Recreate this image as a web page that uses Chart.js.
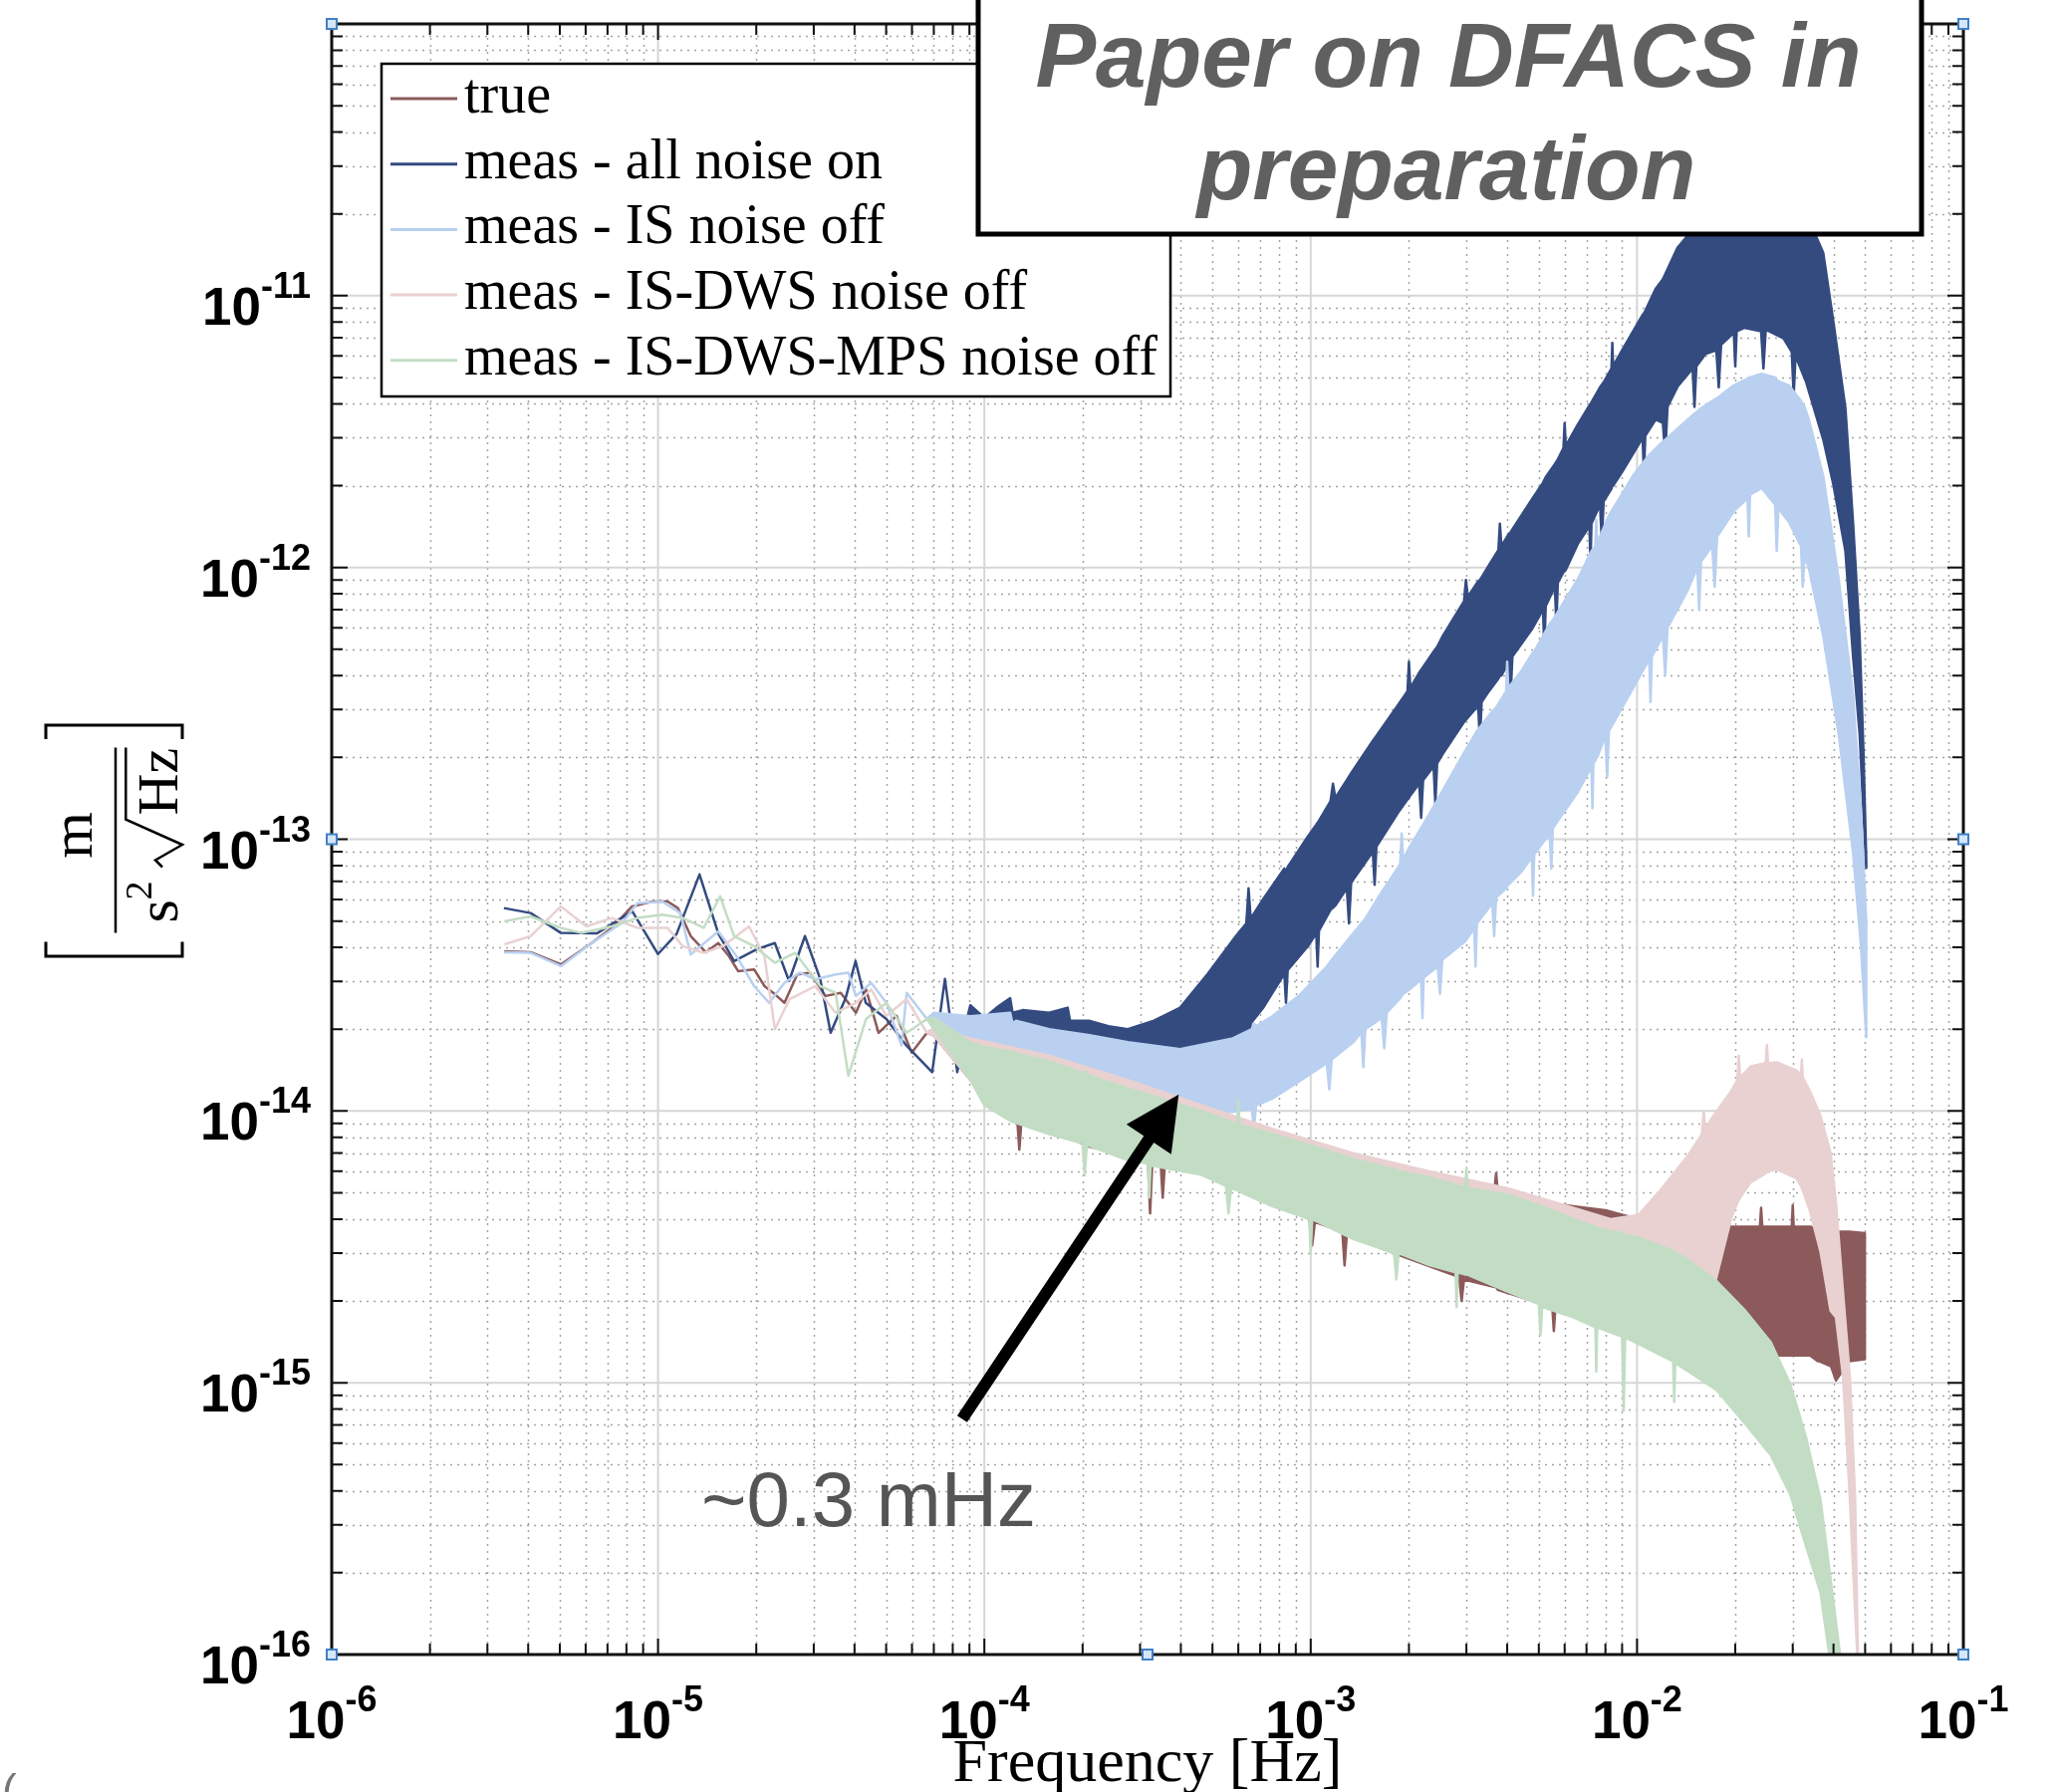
<!DOCTYPE html>
<html>
<head>
<meta charset="utf-8">
<script src="https://cdn.jsdelivr.net/npm/chart.js@4.4.1/dist/chart.umd.min.js"></script>
<style>
  html, body { margin: 0; padding: 0; background: #fff; }
  #wrap { width: 2064px; height: 1799px; }
</style>
</head>
<body>
<div id="wrap"><canvas id="plot" width="2064" height="1799"></canvas></div>
<script>
// Axis decades and tick labels
const xDecades = [-6, -5, -4, -3, -2, -1];
const yDecades = [-16, -15, -14, -13, -12, -11, -10];
const xTickExps = [-6, -5, -4, -3, -2, -1];
const yTickExps = [-16, -15, -14, -13, -12, -11];

const seriesNames = ['true', 'meas - all noise on', 'meas - IS noise off', 'meas - IS-DWS noise off', 'meas - IS-DWS-MPS noise off'];
const seriesColors = ['#8c5a5a', '#344b80', '#b9d0f0', '#e9d1d1', '#c3ddc5'];

// "true": low-frequency trace, then noise band (upper / lower envelope)
const trueLineF = [3.38e-6, 4.07e-6, 5.04e-6, 6.26e-6, 7.22e-6, 8.33e-6, 9.62e-6, 1.07e-5, 1.15e-5, 1.26e-5, 1.40e-5, 1.53e-5, 1.65e-5, 1.76e-5, 1.97e-5, 2.12e-5, 2.28e-5, 2.44e-5, 2.67e-5, 2.92e-5, 3.26e-5, 3.63e-5, 4.04e-5, 4.34e-5, 4.74e-5, 5.38e-5, 5.99e-5, 6.67e-5];
const trueLineV = [3.87e-14, 3.84e-14, 3.46e-14, 4.15e-14, 4.72e-14, 5.66e-14, 5.90e-14, 5.90e-14, 5.58e-14, 4.40e-14, 3.84e-14, 4.15e-14, 3.71e-14, 3.27e-14, 3.32e-14, 2.88e-14, 2.69e-14, 2.50e-14, 3.18e-14, 3.23e-14, 2.65e-14, 2.72e-14, 2.30e-14, 2.80e-14, 1.94e-14, 2.24e-14, 1.64e-14, 1.94e-14];
const trueBandF = [7.0e-5, 9.06e-5, 1.26e-4, 1.28e-4, 1.30e-4, 1.58e-4, 2.09e-4, 2.75e-4, 3.17e-4, 3.22e-4, 3.27e-4, 3.47e-4, 3.52e-4, 3.57e-4, 4.62e-4, 7.62e-4, 9.9e-4, 1.01e-3, 1.03e-3, 1.25e-3, 1.27e-3, 1.29e-3, 1.94e-3, 2.85e-3, 2.9e-3, 2.95e-3, 3.66e-3, 3.7e-3, 3.74e-3, 5.5e-3, 5.56e-3, 5.62e-3, 8.1e-3, 1.01e-2, 1.22e-2, 1.46e-2, 1.49e-2, 1.51e-2, 1.53e-2, 1.6e-2, 1.75e-2, 1.88e-2, 1.9e-2, 1.92e-2, 2.13e-2, 2.38e-2, 2.4e-2, 2.42e-2, 2.69e-2, 2.98e-2, 3.0e-2, 3.02e-2, 3.39e-2, 3.58e-2, 3.6e-2, 3.62e-2, 3.93e-2, 4.07e-2, 4.47e-2, 4.99e-2];
const trueBandHi = [2.0e-14, 1.9e-14, 1.7e-14, 1.7e-14, 1.68e-14, 1.55e-14, 1.35e-14, 1.22e-14, 1.15e-14, 1.15e-14, 1.14e-14, 1.1e-14, 1.1e-14, 1.09e-14, 1.0e-14, 8.4e-15, 7.6e-15, 7.5e-15, 7.4e-15, 7.0e-15, 6.9e-15, 6.9e-15, 6.0e-15, 5.4e-15, 5.4e-15, 5.35e-15, 5.2e-15, 5.9e-15, 5.1e-15, 4.6e-15, 4.6e-15, 4.55e-15, 4.3e-15, 4.0e-15, 3.9e-15, 3.3e-15, 3.4e-15, 4.3e-15, 3.5e-15, 3.6e-15, 3.75e-15, 3.75e-15, 4.6e-15, 3.75e-15, 3.75e-15, 3.75e-15, 4.4e-15, 3.75e-15, 3.75e-15, 3.75e-15, 4.5e-15, 3.75e-15, 3.75e-15, 3.7e-15, 4.2e-15, 3.7e-15, 3.65e-15, 3.6e-15, 3.6e-15, 3.55e-15];
const trueBandLo = [1.9e-14, 1.3e-14, 9.4e-15, 7.2e-15, 9.3e-15, 8.6e-15, 7.4e-15, 6.9e-15, 6.6e-15, 4.2e-15, 6.5e-15, 6.4e-15, 4.8e-15, 6.3e-15, 6.0e-15, 4.7e-15, 4.0e-15, 3.2e-15, 3.9e-15, 3.6e-15, 2.7e-15, 3.5e-15, 2.9e-15, 2.45e-15, 2.0e-15, 2.4e-15, 2.25e-15, 2.25e-15, 2.2e-15, 1.9e-15, 1.55e-15, 1.88e-15, 1.6e-15, 1.45e-15, 1.35e-15, 1.3e-15, 1.3e-15, 1.3e-15, 1.3e-15, 1.3e-15, 1.3e-15, 1.29e-15, 1.29e-15, 1.29e-15, 1.28e-15, 1.27e-15, 1.27e-15, 1.27e-15, 1.26e-15, 1.26e-15, 1.26e-15, 1.26e-15, 1.26e-15, 1.2e-15, 1.2e-15, 1.2e-15, 1.15e-15, 1.02e-15, 1.2e-15, 1.22e-15];

// "meas - all noise on"
const allLineF = [3.37e-6, 4.07e-6, 5.04e-6, 6.49e-6, 8.34e-6, 1.0e-5, 1.14e-5, 1.34e-5, 1.53e-5, 1.71e-5, 2.01e-5, 2.28e-5, 2.52e-5, 2.82e-5, 3.14e-5, 3.38e-5, 3.76e-5, 4.03e-5, 4.33e-5, 5.01e-5, 5.77e-5, 6.92e-5, 7.57e-5, 8.26e-5];
const allLineV = [5.58e-14, 5.35e-14, 4.52e-14, 4.50e-14, 5.43e-14, 3.78e-14, 4.48e-14, 7.42e-14, 4.50e-14, 3.56e-14, 3.94e-14, 4.15e-14, 3.01e-14, 4.40e-14, 3.06e-14, 1.94e-14, 2.61e-14, 3.56e-14, 2.50e-14, 2.18e-14, 1.74e-14, 1.39e-14, 3.06e-14, 1.39e-14];
const allBandF = [8.6e-5, 9.06e-5, 1.0e-4, 1.09e-4, 1.2e-4, 1.22e-4, 1.31e-4, 1.58e-4, 1.8e-4, 1.83e-4, 2.09e-4, 2.4e-4, 2.75e-4, 3.31e-4, 3.98e-4, 4.84e-4, 5.9e-4, 6.35e-4, 6.45e-4, 6.55e-4, 7.14e-4, 8.3e-4, 8.4e-4, 8.5e-4, 9.78e-4, 1.04e-3, 1.05e-3, 1.06e-3, 1.15e-3, 1.17e-3, 1.19e-3, 1.29e-3, 1.31e-3, 1.33e-3, 1.36e-3, 1.55e-3, 1.57e-3, 1.59e-3, 1.85e-3, 1.98e-3, 2.0e-3, 2.02e-3, 2.15e-3, 2.18e-3, 2.21e-3, 2.38e-3, 2.41e-3, 2.44e-3, 2.54e-3, 2.95e-3, 2.99e-3, 3.03e-3, 3.26e-3, 3.3e-3, 3.34e-3, 3.48e-3, 3.76e-3, 3.8e-3, 3.84e-3, 4.05e-3, 4.1e-3, 4.15e-3, 4.76e-3, 5.15e-3, 5.2e-3, 5.25e-3, 5.6e-3, 5.66e-3, 5.72e-3, 5.95e-3, 6.0e-3, 6.05e-3, 6.58e-3, 7.15e-3, 7.2e-3, 7.25e-3, 7.7e-3, 7.8e-3, 7.9e-3, 8.35e-3, 8.4e-3, 8.45e-3, 9.01e-3, 1.04e-2, 1.05e-2, 1.06e-2, 1.14e-2, 1.2e-2, 1.22e-2, 1.24e-2, 1.33e-2, 1.48e-2, 1.5e-2, 1.52e-2, 1.62e-2, 1.75e-2, 1.78e-2, 1.81e-2, 1.98e-2, 2.0e-2, 2.02e-2, 2.13e-2, 2.4e-2, 2.44e-2, 2.48e-2, 2.81e-2, 2.98e-2, 3.02e-2, 3.06e-2, 3.3e-2, 3.72e-2, 4.0e-2, 4.35e-2, 4.59e-2, 4.81e-2, 4.94e-2, 5.04e-2];
const allBandHi = [1.9e-14, 2.45e-14, 2.2e-14, 2.4e-14, 2.6e-14, 2.3e-14, 2.35e-14, 2.3e-14, 2.4e-14, 2.15e-14, 2.15e-14, 2.05e-14, 2.0e-14, 2.15e-14, 2.4e-14, 3.2e-14, 4.4e-14, 4.9e-14, 6.6e-14, 5.1e-14, 6.0e-14, 7.8e-14, 7.6e-14, 7.9e-14, 1.02e-13, 1.13e-13, 1.15e-13, 1.17e-13, 1.38e-13, 1.6e-13, 1.42e-13, 1.65e-13, 1.7e-13, 1.75e-13, 1.82e-13, 2.3e-13, 2.35e-13, 2.4e-13, 3.11e-13, 3.5e-13, 4.5e-13, 3.6e-13, 4.1e-13, 4.2e-13, 4.3e-13, 4.9e-13, 5.0e-13, 5.1e-13, 5.6e-13, 7.5e-13, 9.0e-13, 7.8e-13, 8.9e-13, 9.0e-13, 9.2e-13, 9.98e-13, 1.16e-12, 1.45e-12, 1.2e-12, 1.33e-12, 1.35e-12, 1.38e-12, 1.78e-12, 2.05e-12, 2.1e-12, 2.15e-12, 2.4e-12, 2.45e-12, 2.5e-12, 2.75e-12, 3.4e-12, 2.8e-12, 3.35e-12, 3.95e-12, 4.0e-12, 4.05e-12, 4.6e-12, 4.7e-12, 4.8e-12, 5.4e-12, 6.7e-12, 5.5e-12, 6.31e-12, 8.5e-12, 8.6e-12, 8.8e-12, 1.06e-11, 1.15e-11, 1.2e-11, 1.25e-11, 1.5e-11, 1.75e-11, 1.8e-11, 1.82e-11, 1.96e-11, 2.2e-11, 2.25e-11, 2.3e-11, 2.45e-11, 2.5e-11, 2.5e-11, 2.58e-11, 2.6e-11, 2.6e-11, 2.6e-11, 2.44e-11, 2.3e-11, 2.25e-11, 2.2e-11, 2.0e-11, 1.44e-11, 7.96e-12, 3.87e-12, 1.47e-12, 5.6e-13, 2.11e-13, 8.38e-14];
const allBandLo = [1.8e-14, 1.48e-14, 1.5e-14, 1.43e-14, 1.45e-14, 1.4e-14, 1.39e-14, 1.28e-14, 1.25e-14, 1.24e-14, 1.21e-14, 1.18e-14, 1.15e-14, 1.11e-14, 1.11e-14, 1.33e-14, 1.8e-14, 2.0e-14, 1.5e-14, 2.1e-14, 2.39e-14, 3.2e-14, 2.5e-14, 3.3e-14, 4.03e-14, 4.5e-14, 3.4e-14, 4.6e-14, 5.5e-14, 5.6e-14, 5.7e-14, 6.6e-14, 4.9e-14, 6.9e-14, 7.2e-14, 9.0e-14, 6.8e-14, 9.4e-14, 1.25e-13, 1.4e-13, 1.42e-13, 1.45e-13, 1.6e-13, 1.2e-13, 1.65e-13, 1.85e-13, 1.35e-13, 1.9e-13, 2.06e-13, 2.7e-13, 2.75e-13, 2.8e-13, 3.1e-13, 2.3e-13, 3.2e-13, 3.44e-13, 3.9e-13, 4.0e-13, 4.0e-13, 4.5e-13, 3.4e-13, 4.7e-13, 5.92e-13, 7.0e-13, 5.0e-13, 7.2e-13, 8.5e-13, 6.2e-13, 8.8e-13, 9.6e-13, 9.7e-13, 9.8e-13, 1.22e-12, 1.42e-12, 1.02e-12, 1.45e-12, 1.7e-12, 1.25e-12, 1.75e-12, 1.95e-12, 2.0e-12, 2.0e-12, 2.25e-12, 3.0e-12, 2.2e-12, 3.05e-12, 3.5e-12, 3.4e-12, 2.6e-12, 3.9e-12, 4.62e-12, 5.4e-12, 3.9e-12, 5.5e-12, 6.1e-12, 6.3e-12, 4.6e-12, 6.6e-12, 7.3e-12, 5.5e-12, 7.4e-12, 7.62e-12, 7.4e-12, 5.4e-12, 7.5e-12, 6.97e-12, 6.2e-12, 4.3e-12, 6.0e-12, 4.8e-12, 2.96e-12, 2.01e-12, 1.15e-12, 4.74e-13, 2.43e-13, 1.25e-13, 7.84e-14];

// "meas - IS noise off"
const isLineF = [3.38e-6, 4.07e-6, 5.04e-6, 6.26e-6, 7.76e-6, 8.64e-6, 1.03e-5, 1.17e-5, 1.26e-5, 1.53e-5, 1.74e-5, 1.97e-5, 2.19e-5, 2.44e-5, 2.72e-5, 3.03e-5, 3.50e-5, 3.83e-5, 4.04e-5, 4.50e-5, 5.01e-5, 5.57e-5, 5.78e-5, 6.67e-5];
const isLineV = [3.84e-14, 3.82e-14, 3.41e-14, 4.15e-14, 4.92e-14, 5.82e-14, 5.90e-14, 5.35e-14, 3.77e-14, 4.58e-14, 3.71e-14, 2.88e-14, 2.50e-14, 2.96e-14, 3.23e-14, 3.05e-14, 3.18e-14, 3.23e-14, 2.65e-14, 2.96e-14, 2.50e-14, 1.74e-14, 2.72e-14, 2.18e-14];
const isBandF = [7.0e-5, 9.06e-5, 1.2e-4, 1.22e-4, 1.25e-4, 1.58e-4, 2.1e-4, 2.75e-4, 3.98e-4, 5.77e-4, 6.6e-4, 6.7e-4, 6.8e-4, 7.62e-4, 9.16e-4, 1.12e-3, 1.14e-3, 1.16e-3, 1.35e-3, 1.43e-3, 1.45e-3, 1.47e-3, 1.65e-3, 1.68e-3, 1.71e-3, 1.88e-3, 1.9e-3, 1.92e-3, 2.0e-3, 2.18e-3, 2.2e-3, 2.22e-3, 2.45e-3, 2.49e-3, 2.53e-3, 2.97e-3, 3.17e-3, 3.2e-3, 3.23e-3, 3.6e-3, 3.65e-3, 3.7e-3, 3.97e-3, 4.0e-3, 4.03e-3, 4.42e-3, 4.76e-3, 4.8e-3, 4.84e-3, 5.4e-3, 5.46e-3, 5.52e-3, 6.58e-3, 7.25e-3, 7.3e-3, 7.35e-3, 7.45e-3, 7.5e-3, 7.55e-3, 8.0e-3, 8.1e-3, 8.2e-3, 9.71e-3, 1.09e-2, 1.1e-2, 1.11e-2, 1.2e-2, 1.22e-2, 1.24e-2, 1.43e-2, 1.53e-2, 1.55e-2, 1.57e-2, 1.7e-2, 1.73e-2, 1.76e-2, 1.98e-2, 2.18e-2, 2.2e-2, 2.22e-2, 2.41e-2, 2.65e-2, 2.68e-2, 2.71e-2, 2.92e-2, 3.18e-2, 3.22e-2, 3.26e-2, 3.36e-2, 3.72e-2, 4.15e-2, 4.59e-2, 4.85e-2, 5.04e-2];
const isBandHi = [2.3e-14, 2.23e-14, 2.3e-14, 2.1e-14, 2.15e-14, 2.0e-14, 1.9e-14, 1.79e-14, 1.69e-14, 1.85e-14, 2.0e-14, 2.1e-14, 2.05e-14, 2.23e-14, 2.64e-14, 3.4e-14, 3.5e-14, 3.6e-14, 4.5e-14, 4.9e-14, 5.0e-14, 5.1e-14, 6.4e-14, 6.6e-14, 6.8e-14, 8.1e-14, 1.05e-13, 8.4e-14, 9.26e-14, 1.1e-13, 1.12e-13, 1.14e-13, 1.4e-13, 1.45e-13, 1.5e-13, 2.11e-13, 2.4e-13, 2.45e-13, 2.5e-13, 2.95e-13, 3.0e-13, 3.05e-13, 3.5e-13, 4.5e-13, 3.6e-13, 4.15e-13, 4.8e-13, 4.85e-13, 4.9e-13, 6.2e-13, 6.3e-13, 6.4e-13, 9.03e-13, 1.15e-12, 1.16e-12, 1.17e-12, 1.2e-12, 1.5e-12, 1.23e-12, 1.45e-12, 1.5e-12, 1.55e-12, 2.17e-12, 2.6e-12, 2.62e-12, 2.65e-12, 2.9e-12, 2.95e-12, 3.0e-12, 3.5e-12, 3.75e-12, 3.8e-12, 3.85e-12, 4.1e-12, 4.15e-12, 4.2e-12, 4.68e-12, 4.95e-12, 5.0e-12, 5.0e-12, 5.16e-12, 5.0e-12, 4.9e-12, 4.85e-12, 4.68e-12, 4.1e-12, 4.0e-12, 3.9e-12, 3.5e-12, 2.17e-12, 9.03e-13, 3.4e-13, 1.31e-13, 4.97e-14];
const isBandLo = [2.1e-14, 1.6e-14, 1.35e-14, 1.15e-14, 1.35e-14, 1.24e-14, 1.15e-14, 1.06e-14, 9.71e-15, 9.93e-15, 1.02e-14, 8.6e-15, 1.05e-14, 1.11e-14, 1.28e-14, 1.5e-14, 1.2e-14, 1.55e-14, 1.79e-14, 1.95e-14, 1.45e-14, 2.0e-14, 2.2e-14, 1.7e-14, 2.3e-14, 2.6e-14, 2.65e-14, 2.7e-14, 2.79e-14, 3.05e-14, 2.2e-14, 3.1e-14, 3.4e-14, 2.7e-14, 3.6e-14, 4.2e-14, 4.7e-14, 3.4e-14, 4.9e-14, 5.8e-14, 4.4e-14, 6.1e-14, 6.6e-14, 6.7e-14, 6.8e-14, 7.58e-14, 8.6e-14, 6.2e-14, 8.8e-14, 1.05e-13, 7.8e-14, 1.1e-13, 1.49e-13, 1.85e-13, 1.3e-13, 1.9e-13, 1.95e-13, 2.0e-13, 2.0e-13, 2.4e-13, 1.7e-13, 2.5e-13, 3.59e-13, 4.6e-13, 3.2e-13, 4.7e-13, 5.6e-13, 4.0e-13, 6.0e-13, 8.26e-13, 1.0e-12, 7.0e-13, 1.05e-12, 1.2e-12, 8.5e-13, 1.3e-12, 1.61e-12, 1.8e-12, 1.3e-12, 1.85e-12, 1.96e-12, 1.7e-12, 1.15e-12, 1.65e-12, 1.47e-12, 1.2e-12, 8.5e-13, 1.1e-12, 9.98e-13, 5.6e-13, 2.43e-13, 8.96e-14, 4.12e-14, 1.87e-14];

// "meas - IS-DWS noise off"
const dwsLineF = [3.38e-6, 4.07e-6, 5.04e-6, 6.03e-6, 7.22e-6, 8.64e-6, 1.07e-5, 1.19e-5, 1.38e-5, 1.58e-5, 1.90e-5, 2.12e-5, 2.28e-5, 2.53e-5, 3.03e-5, 3.50e-5, 4.04e-5, 4.50e-5, 5.01e-5, 5.78e-5, 6.67e-5];
const dwsLineV = [4.10e-14, 4.40e-14, 5.66e-14, 4.78e-14, 5.13e-14, 4.72e-14, 4.72e-14, 4.04e-14, 3.82e-14, 4.04e-14, 4.78e-14, 3.71e-14, 2.00e-14, 2.58e-14, 2.88e-14, 2.30e-14, 2.50e-14, 2.80e-14, 2.24e-14, 2.58e-14, 1.94e-14];
const dwsBandF = [7.0e-5, 9.06e-5, 1.58e-4, 2.75e-4, 4.62e-4, 7.62e-4, 1.35e-3, 2.31e-3, 3.99e-3, 6.4e-3, 8.3e-3, 1.01e-2, 1.18e-2, 1.42e-2, 1.58e-2, 1.6e-2, 1.62e-2, 1.68e-2, 1.94e-2, 2.03e-2, 2.05e-2, 2.07e-2, 2.23e-2, 2.48e-2, 2.5e-2, 2.52e-2, 2.68e-2, 3.08e-2, 3.18e-2, 3.2e-2, 3.22e-2, 3.39e-2, 3.65e-2, 3.92e-2, 4.07e-2, 4.28e-2, 4.49e-2, 4.66e-2, 4.75e-2, 4.81e-2];
const dwsBandHi = [2.0e-14, 1.85e-14, 1.6e-14, 1.3e-14, 1.05e-14, 8.6e-15, 7.0e-15, 6.0e-15, 5.2e-15, 4.4e-15, 4.0e-15, 4.14e-15, 5.11e-15, 6.75e-15, 8.2e-15, 1.0e-14, 8.5e-15, 9.25e-15, 1.18e-14, 1.3e-14, 1.6e-14, 1.33e-14, 1.46e-14, 1.5e-14, 1.75e-14, 1.5e-14, 1.51e-14, 1.41e-14, 1.36e-14, 1.55e-14, 1.33e-14, 1.18e-14, 9.59e-15, 6.98e-15, 4.6e-15, 2.13e-15, 1.05e-15, 3.71e-16, 1.02e-16, 8e-17];
const dwsBandLo = [1.9e-14, 1.3e-14, 8.8e-15, 7.2e-15, 6.3e-15, 4.9e-15, 3.7e-15, 3.0e-15, 2.4e-15, 1.9e-15, 1.7e-15, 1.5e-15, 1.45e-15, 1.5e-15, 1.8e-15, 1.85e-15, 1.9e-15, 2.0e-15, 4.0e-15, 4.6e-15, 4.7e-15, 4.8e-15, 5.47e-15, 5.9e-15, 5.95e-15, 6.0e-15, 6.1e-15, 5.66e-15, 5.3e-15, 5.2e-15, 5.1e-15, 4.28e-15, 3.03e-15, 1.84e-15, 1.74e-15, 1.05e-15, 3.71e-16, 1.43e-16, 9e-17, 8e-17];

// "meas - IS-DWS-MPS noise off"
const mpsLineF = [3.38e-6, 4.07e-6, 5.04e-6, 5.82e-6, 7.22e-6, 8.64e-6, 1.03e-5, 1.19e-5, 1.38e-5, 1.55e-5, 1.71e-5, 1.97e-5, 2.28e-5, 2.63e-5, 3.14e-5, 3.50e-5, 3.83e-5, 4.34e-5, 5.01e-5, 5.78e-5, 6.67e-5];
const mpsLineV = [4.99e-14, 5.20e-14, 4.72e-14, 4.52e-14, 4.78e-14, 5.13e-14, 5.28e-14, 5.13e-14, 4.72e-14, 6.16e-14, 4.40e-14, 4.04e-14, 3.51e-14, 3.82e-14, 2.88e-14, 2.72e-14, 1.35e-14, 2.18e-14, 2.50e-14, 1.94e-14, 2.18e-14];
const mpsBandF = [7.0e-5, 9.06e-5, 1.0e-4, 1.2e-4, 1.58e-4, 2.0e-4, 2.03e-4, 2.06e-4, 2.75e-4, 3.17e-4, 3.2e-4, 3.23e-4, 4.62e-4, 5.5e-4, 5.6e-4, 5.7e-4, 5.95e-4, 6.0e-4, 6.05e-4, 7.62e-4, 9.9e-4, 1.0e-3, 1.01e-3, 1.35e-3, 1.8e-3, 1.83e-3, 1.86e-3, 2.31e-3, 2.78e-3, 2.8e-3, 2.82e-3, 2.98e-3, 3.0e-3, 3.02e-3, 3.99e-3, 5.0e-3, 5.06e-3, 5.12e-3, 6.4e-3, 7.45e-3, 7.5e-3, 7.55e-3, 9.0e-3, 9.1e-3, 9.2e-3, 1.01e-2, 1.29e-2, 1.3e-2, 1.31e-2, 1.42e-2, 1.75e-2, 2.13e-2, 2.57e-2, 2.95e-2, 3.3e-2, 3.65e-2, 3.93e-2, 4.19e-2, 4.27e-2];
const mpsBandHi = [2.2e-14, 1.79e-14, 1.72e-14, 1.65e-14, 1.52e-14, 1.38e-14, 1.4e-14, 1.36e-14, 1.21e-14, 1.15e-14, 1.15e-14, 1.14e-14, 1.0e-14, 9.3e-15, 9.2e-15, 9.1e-15, 8.9e-15, 1.1e-14, 8.9e-15, 8.22e-15, 7.5e-15, 7.5e-15, 7.45e-15, 6.66e-15, 6.1e-15, 6.1e-15, 6.0e-15, 5.7e-15, 5.35e-15, 5.35e-15, 5.3e-15, 5.25e-15, 6.2e-15, 5.2e-15, 4.93e-15, 4.5e-15, 4.5e-15, 4.45e-15, 4.0e-15, 3.75e-15, 3.75e-15, 3.7e-15, 3.55e-15, 3.55e-15, 3.5e-15, 3.42e-15, 3.05e-15, 3.05e-15, 3.0e-15, 2.86e-15, 2.37e-15, 1.86e-15, 1.41e-15, 9.86e-16, 6.25e-16, 3.71e-16, 1.84e-16, 1.0e-16, 8e-17];
const mpsBandLo = [2.0e-14, 1.3e-14, 1.05e-14, 9.2e-15, 8.22e-15, 7.6e-15, 5.8e-15, 7.5e-15, 6.59e-15, 6.4e-15, 4.8e-15, 6.3e-15, 5.83e-15, 5.3e-15, 4.2e-15, 5.2e-15, 5.1e-15, 5.1e-15, 5.05e-15, 4.47e-15, 4.0e-15, 3.0e-15, 4.0e-15, 3.38e-15, 3.0e-15, 2.4e-15, 3.0e-15, 2.71e-15, 2.55e-15, 1.9e-15, 2.55e-15, 2.5e-15, 2.5e-15, 2.5e-15, 2.17e-15, 1.95e-15, 1.5e-15, 1.9e-15, 1.74e-15, 1.6e-15, 1.1e-15, 1.6e-15, 1.48e-15, 7.9e-16, 1.47e-15, 1.39e-15, 1.2e-15, 8.5e-16, 1.18e-15, 1.11e-15, 9.42e-16, 7.14e-16, 5.41e-16, 3.88e-16, 2.49e-16, 1.69e-16, 9e-17, 8e-17, 8e-17];

// annotation anchors (data coordinates)
const arrowTail = {x: 8.55e-5, y: 7.36e-16};
const arrowTip = {x: 3.94e-4, y: 1.15e-14};
const noteText = '~0.3 mHz';
const notePos = {x: 1.357e-5, y: 2.98e-16};

// outline of a trace: line part, upper envelope, lower envelope back
function outline(lineF, lineV, bandF, bandHi, bandLo) {
    const pts = [];
    lineF.forEach((f, i) => pts.push({x: f, y: lineV[i]}));
    bandF.forEach((f, i) => pts.push({x: f, y: bandHi[i]}));
    for (let i = bandF.length - 1; i >= 0; i--) pts.push({x: bandF[i], y: bandLo[i]});
    for (let i = lineF.length - 1; i >= 0; i--) pts.push({x: lineF[i], y: lineV[i]});
    return pts;
}

function trace(idx, pts) {
    return {
        label: seriesNames[idx],
        data: pts,
        borderColor: seriesColors[idx],
        backgroundColor: seriesColors[idx],
        borderWidth: 2.5,
        borderJoinStyle: 'round',
        fill: 'shape',
        pointRadius: 0,
        tension: 0,
        clip: 0
    };
}

// first dataset is drawn on top
const datasets = [
    trace(4, outline(mpsLineF, mpsLineV, mpsBandF, mpsBandHi, mpsBandLo)),
    trace(3, outline(dwsLineF, dwsLineV, dwsBandF, dwsBandHi, dwsBandLo)),
    trace(2, outline(isLineF, isLineV, isBandF, isBandHi, isBandLo)),
    trace(1, outline(allLineF, allLineV, allBandF, allBandHi, allBandLo)),
    trace(0, outline(trueLineF, trueLineV, trueBandF, trueBandHi, trueBandLo))
];

function logTicks(decades) {
    const out = [];
    for (let i = 0; i < decades.length - 1; i++) {
        for (let m = 1; m <= 9; m++) out.push({v: m * Math.pow(10, decades[i]), major: m === 1});
    }
    out.push({v: Math.pow(10, decades[decades.length - 1]), major: true});
    return out;
}

const SANS = '"Liberation Sans", Arial, Helvetica, sans-serif';
const SERIF = '"Liberation Serif", "Times New Roman", serif';

const gridPlugin = {
    id: 'matlabGrid',
    beforeDatasetsDraw(chart) {
        const {ctx, chartArea: a, scales: {x, y}} = chart;
        ctx.save();
        ctx.beginPath();
        ctx.rect(a.left, a.top, a.right - a.left, a.bottom - a.top);
        ctx.clip();
        const xt = logTicks(xDecades), yt = logTicks(yDecades);
        // minor dotted grid
        ctx.strokeStyle = '#a4a4a4';
        ctx.lineWidth = 1.5;
        ctx.setLineDash([2, 5]);
        xt.filter(t => !t.major).forEach(t => {
            const px = Math.round(x.getPixelForValue(t.v)) + 0.5;
            ctx.beginPath(); ctx.moveTo(px, a.top); ctx.lineTo(px, a.bottom); ctx.stroke();
        });
        yt.filter(t => !t.major).forEach(t => {
            const py = Math.round(y.getPixelForValue(t.v)) + 0.5;
            ctx.beginPath(); ctx.moveTo(a.left, py); ctx.lineTo(a.right, py); ctx.stroke();
        });
        // major solid grid
        ctx.setLineDash([]);
        ctx.strokeStyle = '#d6d6d6';
        ctx.lineWidth = 2;
        xt.filter(t => t.major).forEach(t => {
            const px = x.getPixelForValue(t.v);
            ctx.beginPath(); ctx.moveTo(px, a.top); ctx.lineTo(px, a.bottom); ctx.stroke();
        });
        yt.filter(t => t.major).forEach(t => {
            const py = y.getPixelForValue(t.v);
            ctx.beginPath(); ctx.moveTo(a.left, py); ctx.lineTo(a.right, py); ctx.stroke();
        });
        ctx.restore();
    }
};

function drawPow(ctx, exp, px, baseline, align) {
    ctx.font = 'bold 53px ' + SANS;
    const wb = ctx.measureText('10').width;
    ctx.font = 'bold 36px ' + SANS;
    const sup = String(exp);
    const ws = ctx.measureText(sup).width;
    const left = align === 'right' ? px - wb - ws : px - (wb + ws) / 2;
    ctx.textAlign = 'left';
    ctx.textBaseline = 'alphabetic';
    ctx.fillStyle = '#000';
    ctx.font = 'bold 53px ' + SANS;
    ctx.fillText('10', left, baseline);
    ctx.font = 'bold 36px ' + SANS;
    ctx.fillText(sup, left + wb, baseline - 27);
}

const framePlugin = {
    id: 'matlabFrame',
    afterDatasetsDraw(chart) {
        const {ctx, chartArea: a, scales: {x, y}} = chart;
        ctx.save();
        // inward ticks on all four sides
        ctx.strokeStyle = '#111';
        ctx.lineWidth = 2;
        logTicks(xDecades).forEach(t => {
            const px = x.getPixelForValue(t.v), len = t.major ? 16 : 11;
            ctx.beginPath();
            ctx.moveTo(px, a.bottom); ctx.lineTo(px, a.bottom - len);
            ctx.moveTo(px, a.top); ctx.lineTo(px, a.top + len);
            ctx.stroke();
        });
        logTicks(yDecades).forEach(t => {
            const py = y.getPixelForValue(t.v), len = t.major ? 16 : 11;
            ctx.beginPath();
            ctx.moveTo(a.left, py); ctx.lineTo(a.left + len, py);
            ctx.moveTo(a.right, py); ctx.lineTo(a.right - len, py);
            ctx.stroke();
        });
        ctx.lineWidth = 3;
        ctx.strokeRect(a.left, a.top, a.right - a.left, a.bottom - a.top);
        ctx.restore();
    },
    afterDraw(chart) {
        const {ctx, chartArea: a, scales: {x, y}} = chart;
        ctx.save();

        // tick labels
        xTickExps.forEach(e => drawPow(ctx, e, x.getPixelForValue(Math.pow(10, e)), a.bottom + 84, 'center'));
        yTickExps.forEach(e => drawPow(ctx, e, a.left - 21, y.getPixelForValue(Math.pow(10, e)) + 29, 'right'));

        // x title
        ctx.fillStyle = '#000';
        ctx.font = '62px ' + SERIF;
        ctx.textAlign = 'center';
        ctx.textBaseline = 'alphabetic';
        ctx.fillText('Frequency [Hz]', (a.left + a.right) / 2, 1788);

        // y title: [ m / (s^2 sqrt(Hz)) ] rotated
        ctx.save();
        ctx.translate(116, 843.5);
        ctx.rotate(-Math.PI / 2);
        ctx.strokeStyle = '#000';
        ctx.lineWidth = 2.5;
        ctx.beginPath(); ctx.moveTo(-93, 0); ctx.lineTo(93, 0); ctx.stroke();
        ctx.font = '60px ' + SERIF;
        ctx.textAlign = 'center';
        ctx.fillText('m', 5, -24);
        ctx.textAlign = 'left';
        ctx.fillText('s', -83, 62);
        ctx.font = '38px ' + SERIF;
        ctx.fillText('2', -60, 36);
        ctx.font = '58px ' + SERIF;
        ctx.fillText('Hz', 25, 62);
        ctx.beginPath();
        ctx.moveTo(-27, 47); ctx.lineTo(-20, 40); ctx.lineTo(-4.5, 67); ctx.lineTo(20.8, 10.3); ctx.lineTo(93, 10.3);
        ctx.stroke();
        ctx.lineWidth = 3;
        ctx.beginPath();
        ctx.moveTo(-102, -70); ctx.lineTo(-116.5, -70); ctx.lineTo(-116.5, 67); ctx.lineTo(-102, 67);
        ctx.moveTo(101.5, -70); ctx.lineTo(115.5, -70); ctx.lineTo(115.5, 67); ctx.lineTo(101.5, 67);
        ctx.stroke();
        ctx.restore();

        // legend
        const lg = {l: 383, t: 64, r: 1175, b: 398};
        ctx.fillStyle = '#fff';
        ctx.fillRect(lg.l, lg.t, lg.r - lg.l, lg.b - lg.t);
        ctx.strokeStyle = '#000';
        ctx.lineWidth = 2.5;
        ctx.strokeRect(lg.l, lg.t, lg.r - lg.l, lg.b - lg.t);
        ctx.font = '56px ' + SERIF;
        ctx.textAlign = 'left';
        seriesNames.forEach((name, i) => {
            const ly = 99 + i * 65.7;
            ctx.strokeStyle = seriesColors[i];
            ctx.lineWidth = 3;
            ctx.beginPath(); ctx.moveTo(392, ly); ctx.lineTo(459, ly); ctx.stroke();
            ctx.fillStyle = '#000';
            ctx.fillText(name, 466, ly + 14);
        });

        // arrow
        const tx = x.getPixelForValue(arrowTail.x), ty = y.getPixelForValue(arrowTail.y);
        const hx = x.getPixelForValue(arrowTip.x), hy = y.getPixelForValue(arrowTip.y);
        const ang = Math.atan2(hy - ty, hx - tx);
        const headLen = 54, headHalf = 27;
        const bx = hx - headLen * Math.cos(ang), by = hy - headLen * Math.sin(ang);
        ctx.strokeStyle = '#000';
        ctx.fillStyle = '#000';
        ctx.lineWidth = 12;
        ctx.lineCap = 'butt';
        ctx.beginPath(); ctx.moveTo(tx, ty); ctx.lineTo(bx + 4 * Math.cos(ang), by + 4 * Math.sin(ang)); ctx.stroke();
        ctx.beginPath();
        ctx.moveTo(hx, hy);
        ctx.lineTo(bx + headHalf * Math.sin(ang), by - headHalf * Math.cos(ang));
        ctx.lineTo(bx - headHalf * Math.sin(ang), by + headHalf * Math.cos(ang));
        ctx.closePath();
        ctx.fill();

        ctx.fillStyle = '#555';
        ctx.font = '78px ' + SANS;
        ctx.fillText(noteText, x.getPixelForValue(notePos.x), y.getPixelForValue(notePos.y));

        // "paper in preparation" box
        ctx.fillStyle = '#fff';
        ctx.fillRect(982, -10, 947, 245);
        ctx.strokeStyle = '#000';
        ctx.lineWidth = 5;
        ctx.strokeRect(982, -10, 947, 245);
        ctx.fillStyle = '#606060';
        ctx.font = 'italic bold 91px ' + SANS;
        ctx.textAlign = 'center';
        ctx.fillText('Paper on DFACS in', 1454, 87);
        ctx.fillText('preparation', 1452, 200);

        // axes selection handles
        ctx.strokeStyle = '#3f7fc8';
        ctx.fillStyle = '#d6e6f7';
        ctx.lineWidth = 2;
        const cx = (a.left + a.right) / 2, cy = (a.top + a.bottom) / 2;
        [[a.left, a.top], [a.right, a.top], [a.left, cy], [a.right, cy], [a.left, a.bottom], [cx, a.bottom], [a.right, a.bottom]].forEach(([hx2, hy2]) => {
            ctx.fillRect(hx2 - 5, hy2 - 5, 10, 10);
            ctx.strokeRect(hx2 - 5, hy2 - 5, 10, 10);
        });

        ctx.fillStyle = '#777';
        ctx.font = '44px ' + SANS;
        ctx.textAlign = 'left';
        ctx.fillText('(', 2, 1812);
        ctx.restore();
    }
};

new Chart(document.getElementById('plot'), {
    type: 'line',
    data: {datasets: datasets},
    options: {
        responsive: false,
        animation: false,
        devicePixelRatio: 1,
        layout: {padding: {left: 333, right: 93, top: 24, bottom: 138}},
        plugins: {
            legend: {display: false},
            tooltip: {enabled: false}
        },
        scales: {
            x: {
                type: 'logarithmic', min: 1e-6, max: 1e-1,
                ticks: {display: false},
                grid: {display: false, drawTicks: false},
                border: {display: false}
            },
            y: {
                type: 'logarithmic', min: 1e-16, max: 1e-10,
                ticks: {display: false},
                grid: {display: false, drawTicks: false},
                border: {display: false}
            }
        }
    },
    plugins: [gridPlugin, framePlugin]
});
</script>
</body>
</html>
